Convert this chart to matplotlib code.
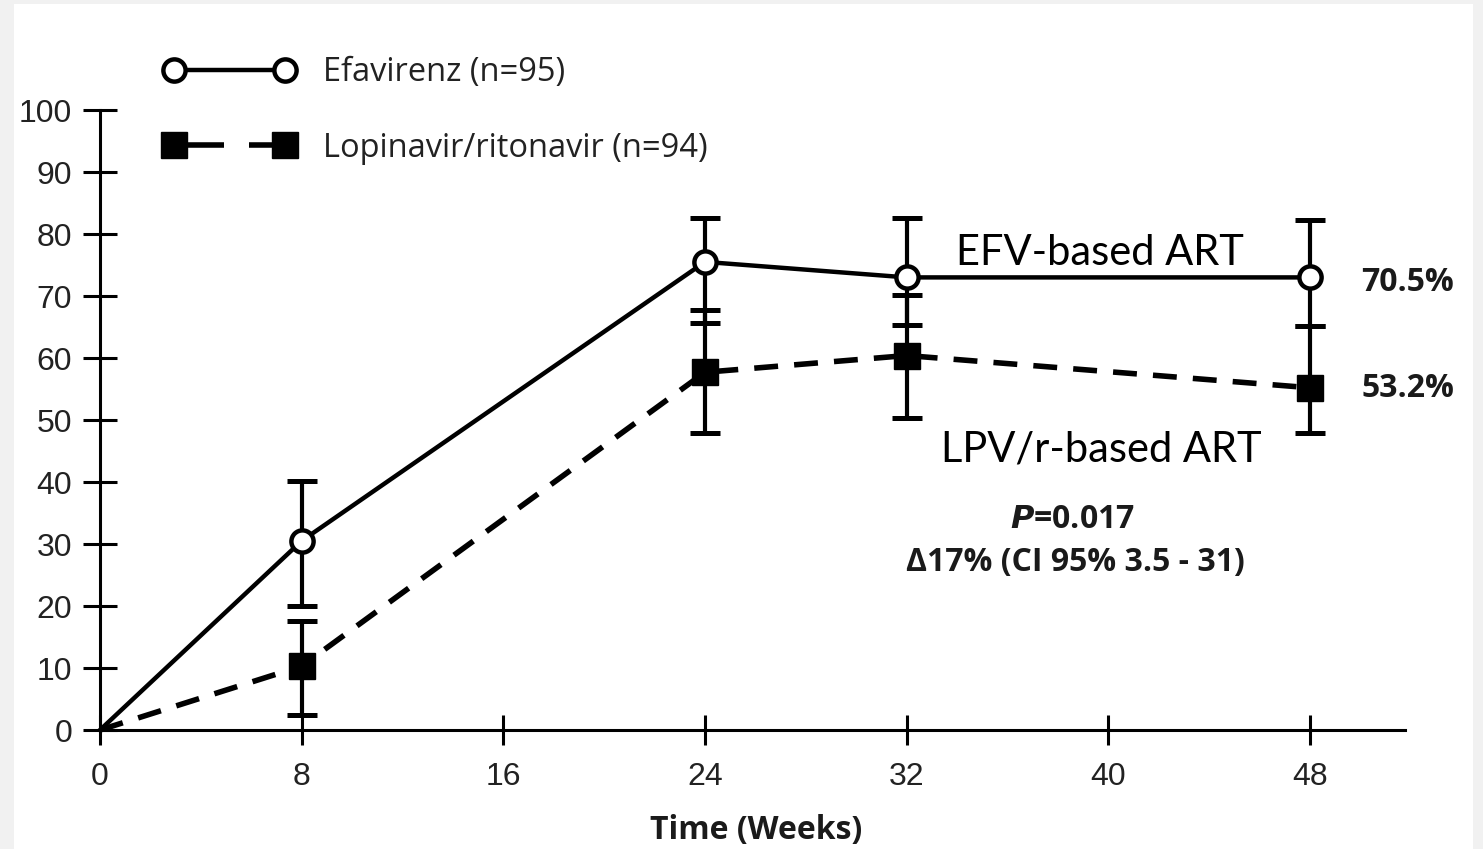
import matplotlib
matplotlib.use("Agg")
import matplotlib.pyplot as plt
import numpy as np
from matplotlib.lines import Line2D
from matplotlib.patches import Rectangle

# ---- data ----
weeks = [0, 8, 24, 32, 48]
efv_pct = [0, 30.5, 75.5, 73.0, 73.0]
efv_lo = [np.nan, 20.0, 65.6, 65.3, 65.2]
efv_hi = [np.nan, 40.2, 82.6, 82.6, 82.3]
lpv_pct = [0, 10.3, 57.7, 60.4, 55.2]
lpv_lo = [np.nan, 2.4, 47.9, 50.3, 47.9]
lpv_hi = [np.nan, 17.6, 67.7, 70.2, 65.2]
x_ticks = [0, 8, 16, 24, 32, 40, 48]
y_ticks = [0, 10, 20, 30, 40, 50, 60, 70, 80, 90, 100]
legend_labels = ["Efavirenz (n=95)", "Lopinavir/ritonavir (n=94)"]
end_labels = ["70.5%", "53.2%"]

W, H = 1483, 849
fig = plt.figure(figsize=(W / 100, H / 100), dpi=100)
fig.patch.set_facecolor("#f1f1f1")
fig.patches.append(Rectangle((14 / W, 0), (1473 - 14) / W, 1 - 4 / H,
                             transform=fig.transFigure, facecolor="white",
                             edgecolor="none", zorder=-10))

ax = fig.add_axes([100 / W, 1 - 730 / H, (1405 - 100) / W, (730 - 110) / H])
ax.set_facecolor("none")
ax.set_xlim(0, 48 * 1305 / 1210)
ax.set_ylim(0, 100)

for s in ["top", "right"]:
    ax.spines[s].set_visible(False)
for s in ["left", "bottom"]:
    ax.spines[s].set_linewidth(2.2)

ax.set_xticks(x_ticks)
ax.set_yticks(y_ticks)
ax.tick_params(axis="x", direction="inout", length=22, width=2.2, pad=12,
               labelsize=23)
ax.tick_params(axis="y", direction="inout", length=24, width=2.2, pad=8,
               labelsize=23)
for lab in ax.get_xticklabels() + ax.get_yticklabels():
    lab.set_fontfamily("Liberation Sans")
    lab.set_color("#222222")

w = np.array(weeks, dtype=float)


def errs(pct, lo, hi):
    p = np.array(pct, dtype=float)
    return np.vstack([p - np.array(lo), np.array(hi) - p])


ax.errorbar(w[1:], np.array(efv_pct)[1:], yerr=errs(efv_pct, efv_lo, efv_hi)[:, 1:],
            fmt="none", ecolor="black", elinewidth=3.0, capsize=11, capthick=3.6,
            zorder=3, clip_on=False)
ax.errorbar(w[1:], np.array(lpv_pct)[1:], yerr=errs(lpv_pct, lpv_lo, lpv_hi)[:, 1:],
            fmt="none", ecolor="black", elinewidth=3.0, capsize=11, capthick=3.6,
            zorder=3, clip_on=False)

ax.plot(w, efv_pct, color="black", lw=3.2, marker="o", ms=16,
        mfc="white", mec="black", mew=3.2, zorder=5, clip_on=False,
        markevery=[1, 2, 3, 4])
ax.plot(w, lpv_pct, color="black", lw=4.0, ls=(0, (4.3, 2.9)), marker="s", ms=19,
        mfc="black", mec="black", mew=1, zorder=4, clip_on=False,
        markevery=[1, 2, 3, 4])

# legend
h1 = Line2D([], [], color="black", lw=3.2, marker="o", ms=16, mfc="white",
            mec="black", mew=3.2)
h2 = Line2D([], [], color="black", lw=4.0, ls=(0, (9, 4.5)), marker="s", ms=19,
            mfc="black", mec="black")
leg = fig.legend([h1, h2], legend_labels, loc="upper left",
                 bbox_to_anchor=(135 / W, 1 - 27 / H), frameon=False,
                 numpoints=2, handlelength=4.0, handletextpad=0.85,
                 labelspacing=1.3, prop={"family": "Open Sans", "size": 23.5})
for t in leg.get_texts():
    t.set_color("#222222")

# annotations
fig.text(1100 / W, 1 - 253 / H, "EFV-based ART", ha="center", va="center",
         family="Lato", fontsize=30, color="black")
fig.text(1101 / W, 1 - 449 / H, "LPV/r-based ART", ha="center", va="center",
         family="Lato", fontsize=30, color="black")
fig.text(1408 / W, 1 - 283 / H, end_labels[0], ha="center", va="center",
         family="Open Sans", fontweight="bold", fontsize=23, color="#1a1a1a")
fig.text(1408 / W, 1 - 389 / H, end_labels[1], ha="center", va="center",
         family="Open Sans", fontweight="bold", fontsize=23, color="#1a1a1a")
fig.text(1072 / W, 1 - 519 / H, r"$\mathbfit{P}$=0.017", ha="center", va="center",
         family="Open Sans", fontweight="bold", fontsize=23, color="#1a1a1a")
fig.text(1075 / W, 1 - 563 / H, "\u039417% (CI 95% 3.5 - 31)", ha="center",
         va="center", family="Open Sans", fontweight="bold", fontsize=23,
         color="#1a1a1a")
fig.text(756 / W, 1 - 830 / H, "Time (Weeks)", ha="center", va="center",
         family="Open Sans", fontweight="bold", fontsize=23, color="#1a1a1a")

fig.savefig("out.png", dpi=100, facecolor=fig.get_facecolor())
